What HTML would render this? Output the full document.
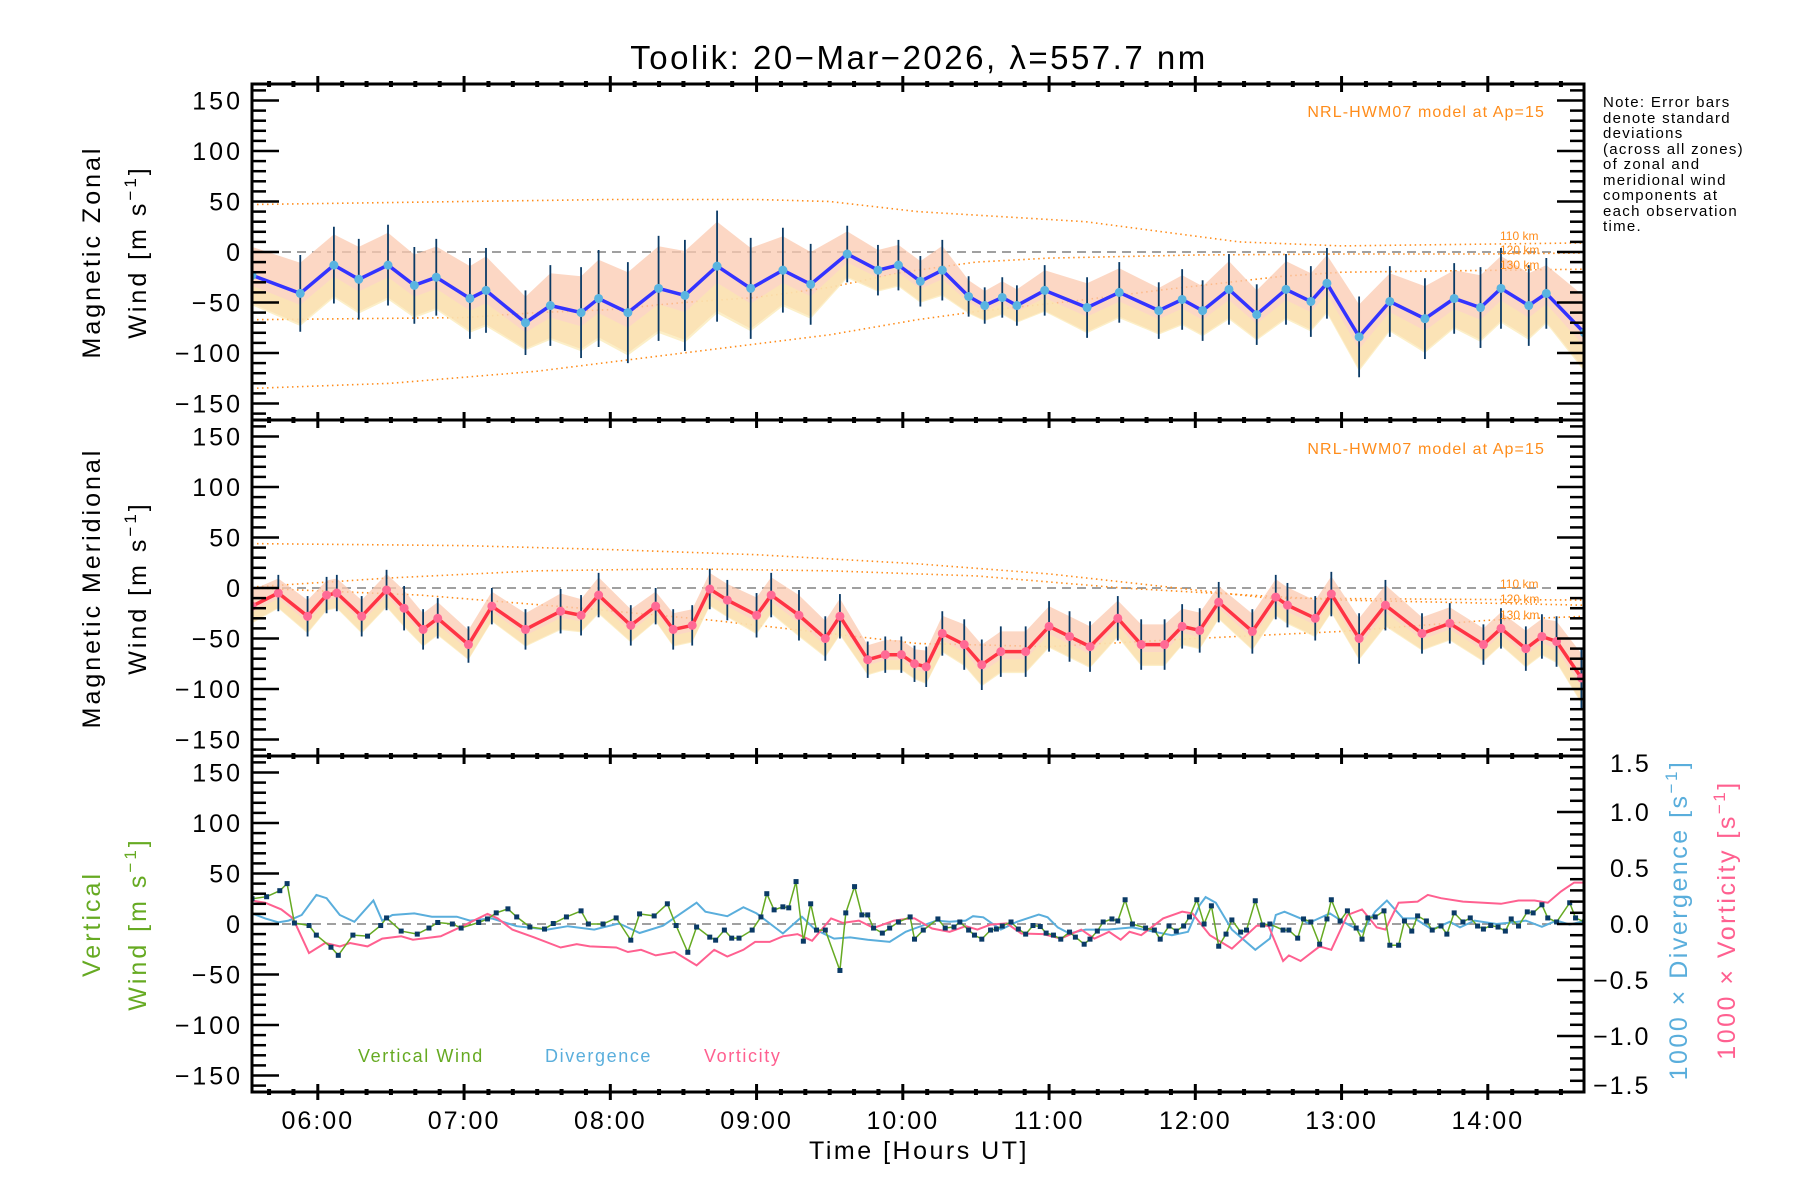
<!DOCTYPE html>
<html><head><meta charset="utf-8">
<style>
html,body{margin:0;padding:0;background:#fff;}
svg{display:block;font-family:"Liberation Sans",sans-serif;}
</style></head>
<body>
<svg id="chart" width="1800" height="1200" viewBox="0 0 1800 1200" xmlns="http://www.w3.org/2000/svg">
<defs>
<clipPath id="c1"><rect x="252" y="84" width="1332" height="336"/></clipPath>
<clipPath id="c2"><rect x="252" y="420" width="1332" height="336"/></clipPath>
<clipPath id="c3"><rect x="252" y="756" width="1332" height="336"/></clipPath>
</defs>
<text x="919" y="69" font-size="33" letter-spacing="2.5" text-anchor="middle">Toolik: 20−Mar−2026, λ=557.7 nm</text>
<g id="layer-data"></g>
<g id="layer-axes"></g>
<text transform="translate(100,252) rotate(-90)" font-size="25" letter-spacing="3" text-anchor="middle">Magnetic Zonal</text>
<text transform="translate(146,252) rotate(-90)" font-size="25" letter-spacing="3" text-anchor="middle">Wind [m s<tspan dy="-10" font-size="17">−1</tspan><tspan dy="10">]</tspan></text>
<text transform="translate(100,588) rotate(-90)" font-size="25" letter-spacing="3" text-anchor="middle">Magnetic Meridional</text>
<text transform="translate(146,588) rotate(-90)" font-size="25" letter-spacing="3" text-anchor="middle">Wind [m s<tspan dy="-10" font-size="17">−1</tspan><tspan dy="10">]</tspan></text>
<text transform="translate(100,924) rotate(-90)" font-size="25" letter-spacing="3" text-anchor="middle" fill="#66aa22">Vertical</text>
<text transform="translate(146,924) rotate(-90)" font-size="25" letter-spacing="3" text-anchor="middle" fill="#66aa22">Wind [m s<tspan dy="-10" font-size="17">−1</tspan><tspan dy="10">]</tspan></text>
<text transform="translate(1687,920) rotate(-90)" font-size="25" letter-spacing="2.5" text-anchor="middle" fill="#5aaedc">1000 × Divergence [s<tspan dy="-10" font-size="17">−1</tspan><tspan dy="10">]</tspan></text>
<text transform="translate(1735,920) rotate(-90)" font-size="25" letter-spacing="2.5" text-anchor="middle" fill="#ff6090">1000 × Vorticity [s<tspan dy="-10" font-size="17">−1</tspan><tspan dy="10">]</tspan></text>
<text x="919" y="1159" font-size="25" letter-spacing="2.5" text-anchor="middle">Time [Hours UT]</text>
<g font-size="15" letter-spacing="1.3">
<text x="1603" y="107">Note: Error bars</text>
<text x="1603" y="123">denote standard</text>
<text x="1603" y="138">deviations</text>
<text x="1603" y="154">(across all zones)</text>
<text x="1603" y="169">of zonal and</text>
<text x="1603" y="185">meridional wind</text>
<text x="1603" y="200">components at</text>
<text x="1603" y="216">each observation</text>
<text x="1603" y="231">time.</text>
</g>
<text x="1545" y="117" font-size="16" letter-spacing="1.1" text-anchor="end" fill="#ff8c1a">NRL-HWM07 model at Ap=15</text>
<text x="1545" y="454" font-size="16" letter-spacing="1.1" text-anchor="end" fill="#ff8c1a">NRL-HWM07 model at Ap=15</text>
<g font-size="12" fill="#ff8c1a">
<text x="1500" y="240">110 km</text><text x="1500" y="254">120 km</text><text x="1500" y="269">130 km</text>
<text x="1500" y="588">110 km</text><text x="1500" y="603">120 km</text><text x="1500" y="619">130 km</text>
</g>
<text x="358" y="1062" font-size="18" letter-spacing="1.6" fill="#66aa22">Vertical Wind</text>
<text x="545" y="1062" font-size="18" letter-spacing="1.6" fill="#5aaedc">Divergence</text>
<text x="704" y="1062" font-size="18" letter-spacing="1.6" fill="#ff6090">Vorticity</text>
</svg>
<script>
const zonalTime=[5.55,5.88,6.11,6.28,6.48,6.66,6.81,7.04,7.15,7.42,7.59,7.80,7.92,8.12,8.33,8.51,8.73,8.96,9.18,9.37,9.62,9.83,9.97,10.12,10.27,10.45,10.56,10.68,10.78,10.97,11.26,11.48,11.75,11.91,12.05,12.23,12.42,12.62,12.79,12.90,13.12,13.33,13.57,13.77,13.95,14.09,14.28,14.40,14.66];
const zonalWind=[-23,-41,-13,-27,-13,-33,-25,-46,-38,-70,-53,-60,-46,-60,-36,-43,-14,-36,-18,-32,-2,-18,-13,-29,-18,-44,-53,-45,-53,-38,-55,-40,-58,-47,-58,-37,-62,-37,-49,-31,-84,-49,-66,-46,-55,-36,-53,-41,-80];
const zonalErr=[35,38,38,40,40,38,38,40,42,32,40,45,48,50,52,55,55,50,42,40,28,25,25,25,30,20,18,20,20,25,30,30,28,30,30,35,30,35,35,35,40,35,40,35,40,40,40,35,45];
const merTime=[5.55,5.73,5.93,6.06,6.13,6.30,6.47,6.59,6.72,6.82,7.03,7.19,7.42,7.66,7.80,7.92,8.14,8.31,8.43,8.56,8.68,8.80,9.00,9.10,9.29,9.47,9.57,9.76,9.88,9.99,10.08,10.16,10.27,10.42,10.54,10.67,10.84,11.00,11.14,11.28,11.47,11.63,11.79,11.91,12.03,12.16,12.39,12.55,12.63,12.82,12.93,13.12,13.30,13.55,13.74,13.97,14.09,14.26,14.37,14.47,14.64];
const merWind=[-18,-5,-28,-7,-5,-28,-2,-20,-41,-30,-56,-18,-41,-23,-27,-7,-37,-18,-41,-37,-1,-12,-27,-7,-27,-50,-28,-71,-66,-66,-75,-78,-45,-56,-76,-63,-63,-38,-48,-58,-30,-56,-56,-38,-42,-14,-43,-9,-17,-30,-6,-50,-17,-45,-35,-56,-40,-60,-48,-53,-89];
const merErr=[20,18,20,18,18,20,20,22,20,20,18,18,20,22,20,22,20,18,20,20,20,20,22,22,25,22,22,18,18,18,18,20,22,25,25,25,25,25,25,25,22,25,25,22,22,20,22,22,22,22,22,25,25,20,20,20,20,22,22,25,30];
const vertTime=[5.55,5.65,5.74,5.79,5.84,5.94,5.99,6.09,6.14,6.24,6.34,6.43,6.47,6.57,6.68,6.76,6.82,6.92,6.98,7.10,7.16,7.22,7.30,7.36,7.45,7.55,7.61,7.70,7.80,7.85,7.95,8.04,8.14,8.20,8.30,8.39,8.45,8.53,8.59,8.68,8.72,8.78,8.83,8.88,8.97,9.03,9.07,9.12,9.18,9.22,9.27,9.32,9.37,9.41,9.47,9.57,9.61,9.67,9.72,9.76,9.80,9.86,9.91,9.97,10.05,10.08,10.14,10.24,10.29,10.35,10.39,10.45,10.49,10.54,10.60,10.64,10.68,10.74,10.79,10.84,10.89,10.94,10.98,11.03,11.08,11.14,11.18,11.24,11.28,11.33,11.37,11.43,11.47,11.52,11.57,11.66,11.72,11.76,11.82,11.87,11.92,11.96,12.01,12.06,12.11,12.16,12.21,12.25,12.31,12.35,12.41,12.46,12.51,12.60,12.64,12.70,12.74,12.79,12.85,12.90,12.93,12.99,13.04,13.10,13.14,13.18,13.23,13.29,13.33,13.39,13.43,13.48,13.52,13.58,13.62,13.68,13.72,13.77,13.83,13.88,13.93,13.97,14.02,14.07,14.12,14.16,14.21,14.27,14.31,14.37,14.41,14.47,14.56,14.60,14.66];
const vertWind=[25,27,33,40,1,-1.5,-11,-23,-31,-11,-12,-1.5,6,-7,-10,-4,1.5,0,-4,1.5,5,11,15,7,-3,-5,0.5,7,13,0,0,6,-16,10,8,20,-1.5,-28,-3,-13,-16,-6,-14,-14,-6,7,30,14,17,16,42,-17,20,-6,-6,-46,11,37,9,9,-4,-9,-4,2,7,-15,-6,5,-4,-3,2,-6,-11,-15,-6,-5,-2,2,-5,-10,-1.5,-2.5,-9,-11,-15,-8,-13,-20,-15,-7,2,5,3,24,0,-4,-6,-15,-2,-7,-2,7,24,0,18,-22,-10,4,-8,-6,23,-1,0,-6,-6,-14,5,2,-20,5,24,3,13,-4,-15,6,7,13,-21,-21,3,-7,8,3,-6,-2,-10,11,2,6,-2,-5,-1.5,-3,-7,5,-2,12,11,19,6,2,21,6,2];
const divTime=[5.55,5.64,5.73,5.80,5.89,5.99,6.06,6.15,6.25,6.38,6.44,6.51,6.66,6.78,6.95,7.04,7.19,7.36,7.57,7.71,7.89,8.06,8.20,8.36,8.59,8.65,8.80,8.91,9.00,9.18,9.31,9.40,9.53,9.64,9.76,9.91,10.02,10.08,10.23,10.32,10.43,10.48,10.55,10.67,10.78,10.93,10.99,11.06,11.14,11.25,11.40,11.57,11.72,11.84,11.95,12.03,12.07,12.14,12.25,12.41,12.51,12.55,12.61,12.72,12.77,12.92,13.01,13.14,13.23,13.31,13.42,13.50,13.62,13.74,13.81,13.91,14.06,14.18,14.26,14.37,14.47,14.56,14.67];
const divValue=[0.095,0.05,0.015,0.03,0.08,0.26,0.23,0.08,0.02,0.21,0.03,0.08,0.095,0.065,0.065,0.03,0.05,-0.02,-0.05,-0.02,-0.05,0.005,-0.08,-0.015,0.19,0.11,0.07,0.15,0.095,-0.085,0.065,-0.05,-0.13,-0.12,-0.14,-0.16,-0.07,-0.04,0.03,0.02,0.03,0.07,0.06,-0.05,0.02,0.085,0.06,-0.03,-0.085,-0.05,-0.05,-0.03,-0.07,-0.1,-0.07,0.17,0.24,0.19,-0.05,-0.23,-0.13,0.08,0.11,0.05,0.005,0.095,0.02,-0.07,0.11,0.21,0.05,0.05,-0.05,0.02,-0.03,0.03,0,0.015,0.03,-0.025,0.03,-0.005,0.03];
const vortTime=[5.55,5.64,5.75,5.83,5.94,6.05,6.15,6.22,6.34,6.44,6.57,6.65,6.84,6.98,7.16,7.23,7.33,7.48,7.66,7.77,7.86,8.04,8.12,8.21,8.31,8.44,8.59,8.71,8.80,8.91,8.99,9.09,9.18,9.28,9.38,9.51,9.59,9.70,9.80,9.94,10.05,10.08,10.20,10.32,10.43,10.51,10.60,10.71,10.81,10.96,11.08,11.22,11.31,11.41,11.49,11.55,11.63,11.78,11.91,11.98,12.10,12.25,12.42,12.50,12.60,12.64,12.72,12.85,12.93,13.04,13.14,13.24,13.30,13.39,13.52,13.59,13.68,13.83,13.97,14.09,14.21,14.32,14.41,14.50,14.59,14.67];
const vortValue=[0.21,0.19,0.13,0.05,-0.26,-0.17,-0.2,-0.17,-0.2,-0.13,-0.11,-0.14,-0.11,-0.025,0.09,0.05,-0.05,-0.12,-0.21,-0.18,-0.2,-0.21,-0.25,-0.23,-0.28,-0.25,-0.37,-0.23,-0.29,-0.23,-0.16,-0.16,-0.11,-0.09,-0.15,0.05,0.01,0.03,-0.035,0.03,0.05,0.05,-0.04,-0.07,-0.02,-0.05,-0.005,0.005,-0.085,-0.09,-0.13,-0.05,-0.13,-0.07,-0.14,-0.07,-0.1,0.05,0.11,0.095,-0.1,-0.22,-0.015,-0.015,-0.33,-0.28,-0.33,-0.2,-0.23,0.08,0.13,-0.03,-0.05,0.19,0.2,0.26,0.23,0.2,0.19,0.18,0.21,0.21,0.19,0.29,0.37,0.37];
const zonalModelTime=[[5.55,7,8,9,9.5,10.1,11.25,12.3,13,14.66],[5.55,7,7.5,8,8.5,9,9.5,10,10.5,11,12,13,14,14.66],[5.55,6.5,7.5,8.5,9.5,10.1,10.5,11.2,11.8,12.6,13,14.66]];
const zonalModelValue=[[47,50,52,52,50,40,30,10,6,9],[-67,-65,-60,-57,-50,-45,-35,-20,-10,-6,-3,-2,-2,-1],[-135,-130,-118,-100,-82,-67,-59,-48,-37,-24,-20,-17]];
const merModelTime=[[5.55,7,8,9,10.1,11,12,12.5,14.66],[5.55,6.5,7.5,8.5,9.5,10.1,10.5,11.5,12.1,13,14.66],[5.55,6.7,7.8,8.7,9.5,10.1,11,12,13,14,14.66]];
const merModelValue=[[44,42,38,33,24,14,-2,-10,-12],[1,10,17,19,17,14,12,0,-5,-12,-17],[0,-7,-20,-32,-45,-55,-58,-50,-43,-32,-28]];
const hourTicks=[6,7,8,9,10,11,12,13,14];
const hourLabels=["06:00","07:00","08:00","09:00","10:00","11:00","12:00","13:00","14:00"];
const windTicks=[150,100,50,0,-50,-100,-150];
const ratioTicks=[1.5,1.0,0.5,0.0,-0.5,-1.0,-1.5];
const ratioLabels=["1.5","1.0","0.5","0.0","−0.5","−1.0","−1.5"];

const NS="http://www.w3.org/2000/svg";
const L=252,R=1584,T=[84,420,756],H=336,CEN=[252,588,924];
function X(h){return L+(h-5.55)*146.25;}
function Y(p,v){return CEN[p]-v*1.01;}
function YR(r){return CEN[2]-r*112;}
const dataLayer=document.getElementById('layer-data');
const axLayer=document.getElementById('layer-axes');
function mk(tag,attrs,parent){const e=document.createElementNS(NS,tag);for(const k in attrs)e.setAttribute(k,attrs[k]);(parent||dataLayer).appendChild(e);return e;}
function pathFrom(xs,ys){return xs.map((x,i)=>(i?'L':'M')+x.toFixed(1)+' '+ys[i].toFixed(1)).join(' ');}

const groups=[];
for(let p=0;p<3;p++){
  const g=mk('g',{'clip-path':'url(#c'+(p+1)+')'});
  
  
  groups.push(g);
  const z=mk('line',{x1:L,x2:R,y1:CEN[p],y2:CEN[p],stroke:'#808080','stroke-width':1.5,'stroke-dasharray':'9,6'},g);
  
  
}

function models(p,times,vals){
  times.forEach((ts,k)=>{
    const e=mk('path',{d:pathFrom(ts.map(X),vals[k].map(v=>Y(p,v))),fill:'none',stroke:'#ff8c1a','stroke-width':1.6,'stroke-dasharray':'1.5,3.5'},groups[p]);
    
    
  });
}
models(0,zonalModelTime,zonalModelValue);
models(1,merModelTime,merModelValue);

function windSeries(p,ts,vs,es,lineCol,dotCol,name){
  const g=groups[p];
  const up=ts.map((t,i)=>X(t)+','+Y(p,vs[i]+es[i]*0.8).toFixed(1));
  const dn=ts.map((t,i)=>X(t)+','+Y(p,vs[i]-es[i]*0.8).toFixed(1)).reverse();
  const band=mk('polygon',{points:up.concat(dn).join(' '),fill:'#fbc9b0',opacity:0.75},g);
  
  
  const band2=mk('polygon',{points:ts.map((t,i)=>X(t)+','+Y(p,vs[i]-es[i]*0.3).toFixed(1)).concat(ts.map((t,i)=>X(t)+','+Y(p,vs[i]-es[i]*0.85).toFixed(1)).reverse()).join(' '),fill:'#fbe8b0',opacity:0.7},g);
  
  
  ts.forEach((t,i)=>{
    const b=mk('line',{x1:X(t),x2:X(t),y1:Y(p,vs[i]+es[i]),y2:Y(p,vs[i]-es[i]),stroke:'#0a3a66','stroke-width':1.8},g);
    
    
  });
  const ln=mk('path',{d:pathFrom(ts.map(X),vs.map(v=>Y(p,v))),fill:'none',stroke:lineCol,'stroke-width':3.5},g);
  
  
  ts.forEach((t,i)=>{
    const c=mk('circle',{cx:X(t),cy:Y(p,vs[i]),r:4.5,fill:dotCol},g);
    
    
  });
}
windSeries(0,zonalTime,zonalWind,zonalErr,'#3333ff','#5ab4e0','zonal-wind');
windSeries(1,merTime,merWind,merErr,'#ff3344','#ff6a95','meridional-wind');

const g3=groups[2];
const dl=mk('path',{d:pathFrom(divTime.map(X),divValue.map(YR)),fill:'none',stroke:'#5aaedc','stroke-width':2},g3);


const vl=mk('path',{d:pathFrom(vortTime.map(X),vortValue.map(YR)),fill:'none',stroke:'#ff6090','stroke-width':2},g3);


const wl=mk('path',{d:pathFrom(vertTime.map(X),vertWind.map(v=>Y(2,v))),fill:'none',stroke:'#66aa22','stroke-width':1.5},g3);


vertTime.forEach((t,i)=>{
  const m=mk('rect',{x:X(t)-2.5,y:Y(2,vertWind[i])-2.5,width:5,height:5,fill:'#0a3a66'},g3);
  
  
});

for(let p=0;p<3;p++){
  const fr=mk('rect',{x:L,y:T[p],width:R-L,height:H,fill:'none',stroke:'#000','stroke-width':3},axLayer);
  
  
  for(let v=-160;v<=160;v+=10){
    const y=Y(p,v); if(y<T[p]+2||y>T[p]+H-2)continue;
    const len=(v%50===0)?27:14;
    const a=mk('line',{x1:L,x2:L+len,y1:y,y2:y,stroke:'#000','stroke-width':2.5},axLayer);
    
    
    if(p<2){
      const b=mk('line',{x1:R,x2:R-len,y1:y,y2:y,stroke:'#000','stroke-width':2.5},axLayer);
      
      
    }
  }
  windTicks.forEach(v=>{
    const t=mk('text',{x:243,y:Y(p,v)+9,'font-size':25,'letter-spacing':3,'text-anchor':'end'},axLayer);
    t.textContent=String(v).replace('-','−');
    
    
  });
}
for(let k=-15;k<=15;k++){
  const r=k/10,y=YR(r);
  const len=(k%5===0)?27:14;
  const a=mk('line',{x1:R,x2:R-len,y1:y,y2:y,stroke:'#000','stroke-width':2.5},axLayer);
  
  
}
ratioTicks.forEach((r,i)=>{
  const t=mk('text',{x:r<0?1593:1610,y:YR(r)+(r>1.4?16:(r<-1.4?2:9)),'font-size':25,'letter-spacing':2},axLayer);
  t.textContent=ratioLabels[i];
  
  
});
[84,420,756,1092].forEach(y=>{
  for(let m=0;m<=55;m++){
    const h=5.5+m/6; const x=X(h); if(x<L+3||x>R-3)continue;
    const major=(m%6===3);
    const tk=mk('line',{x1:x,x2:x,y1:y-(major?8:3),y2:y+(major?8:3),stroke:'#000','stroke-width':major?3:4},axLayer);
    
    
  }
});
hourTicks.forEach((h,i)=>{
  const t=mk('text',{x:X(h),y:1129,'font-size':25,'letter-spacing':2,'text-anchor':'middle'},axLayer);
  t.textContent=hourLabels[i];
  
  
});
</script>
</body></html>
